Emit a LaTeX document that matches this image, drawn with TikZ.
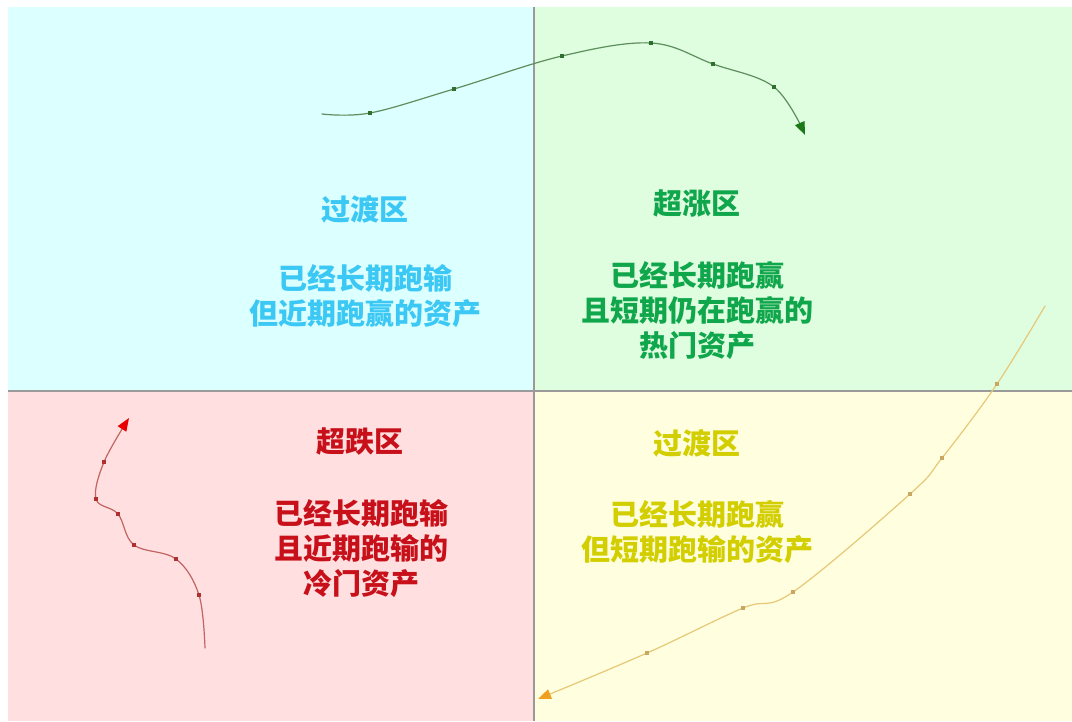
\documentclass[tikz,border=0pt]{standalone}
\usepackage{fontspec}
\newfontfamily\cjk{Noto Sans CJK SC}
\usetikzlibrary{arrows.meta}
\definecolor{bgcyan}{HTML}{DCFFFF}
\definecolor{bggreen}{HTML}{DFFDDF}
\definecolor{bgpink}{HTML}{FFDFDF}
\definecolor{bgyellow}{HTML}{FFFFDF}
\definecolor{txcyan}{HTML}{3CC8F5}
\definecolor{txgreen}{HTML}{10A64C}
\definecolor{txred}{HTML}{C8101A}
\definecolor{txyellow}{HTML}{D2CE00}
\definecolor{lngreen}{HTML}{5E8E5E}
\definecolor{dtgreen}{HTML}{2E6E2E}
\definecolor{arrgreen}{HTML}{1A7A1A}
\definecolor{lnred}{HTML}{C06464}
\definecolor{dtred}{HTML}{B03030}
\definecolor{arrred}{HTML}{E80000}
\definecolor{lnyellow}{HTML}{E6C878}
\definecolor{dtyellow}{HTML}{C8A860}
\definecolor{arryellow}{HTML}{F0A020}
\definecolor{divider}{HTML}{9A9A9A}
\tikzset{
  lbl/.style={font=\cjk\bfseries\fontsize{29}{35}\selectfont, align=center, inner sep=0pt},
  curve/.style={line width=1.2pt, line cap=round},
  dotmark/.style={inner sep=0pt, minimum size=3.5pt, fill, draw=none, rectangle},
}
\begin{document}
\begin{tikzpicture}[x=1pt,y=-1pt]
\useasboundingbox[fill=white] (0,0) rectangle (1072,721);
% quadrants
\fill[bgcyan] (8,7) rectangle (534,391);
\fill[bggreen] (534,7) rectangle (1072,391);
\fill[bgpink] (8,391) rectangle (534,721);
\fill[bgyellow] (534,391) rectangle (1072,721);
\draw[divider, line width=1.5pt] (534,7) -- (534,721);
\draw[divider, line width=1.5pt] (8,391) -- (1072,391);

% texts
\node[lbl, text=txcyan] (tlTitle) at (365,209) {过渡区};
\node[lbl, text=txcyan] (tlBody) at (365,296) {已经长期跑输\\但近期跑赢的资产};
\node[lbl, text=txgreen] (trTitle) at (697,204) {超涨区};
\node[lbl, text=txgreen] (trBody) at (697,311) {已经长期跑赢\\且短期仍在跑赢的\\热门资产};
\node[lbl, text=txred] (blTitle) at (360,442) {超跌区};
\node[lbl, text=txred] (blBody) at (361,549) {已经长期跑输\\且近期跑输的\\冷门资产};
\node[lbl, text=txyellow] (brTitle) at (697,443) {过渡区};
\node[lbl, text=txyellow] (brBody) at (697,532) {已经长期跑赢\\但短期跑输的资产};

% green curve
\draw[curve, lngreen, -{Triangle[length=13pt,width=10pt,color=arrgreen]}]
  plot[smooth, tension=0.6] coordinates {(322,114) (370,113) (454,89) (562,56) (651,43) (713,64) (774,87) (805,135)};
\foreach \p in {(370,113),(454,89),(562,56),(651,43),(713,64),(774,87)}
  \node[dotmark, dtgreen] at \p {};

% red curve
\draw[curve, lnred, -{Triangle[length=13pt,width=10pt,color=arrred]}]
  plot[smooth, tension=0.6] coordinates {(205,648) (199,595) (176,559) (134,545) (118,514) (96,499) (104,462) (129,418)};
\foreach \p in {(199,595),(176,559),(134,545),(118,514),(96,499),(104,462)}
  \node[dotmark, dtred] at \p {};

% yellow curve
\draw[curve, lnyellow, -{Triangle[length=13pt,width=10pt,color=arryellow]}]
  plot[smooth, tension=0.6] coordinates {(1045,306) (997,384) (942,458) (910,494) (793,592) (743,608) (647,653) (538,699)};
\foreach \p in {(997,384),(942,458),(910,494),(793,592),(743,608),(647,653)}
  \node[dotmark, dtyellow] at \p {};
\end{tikzpicture}
\end{document}
